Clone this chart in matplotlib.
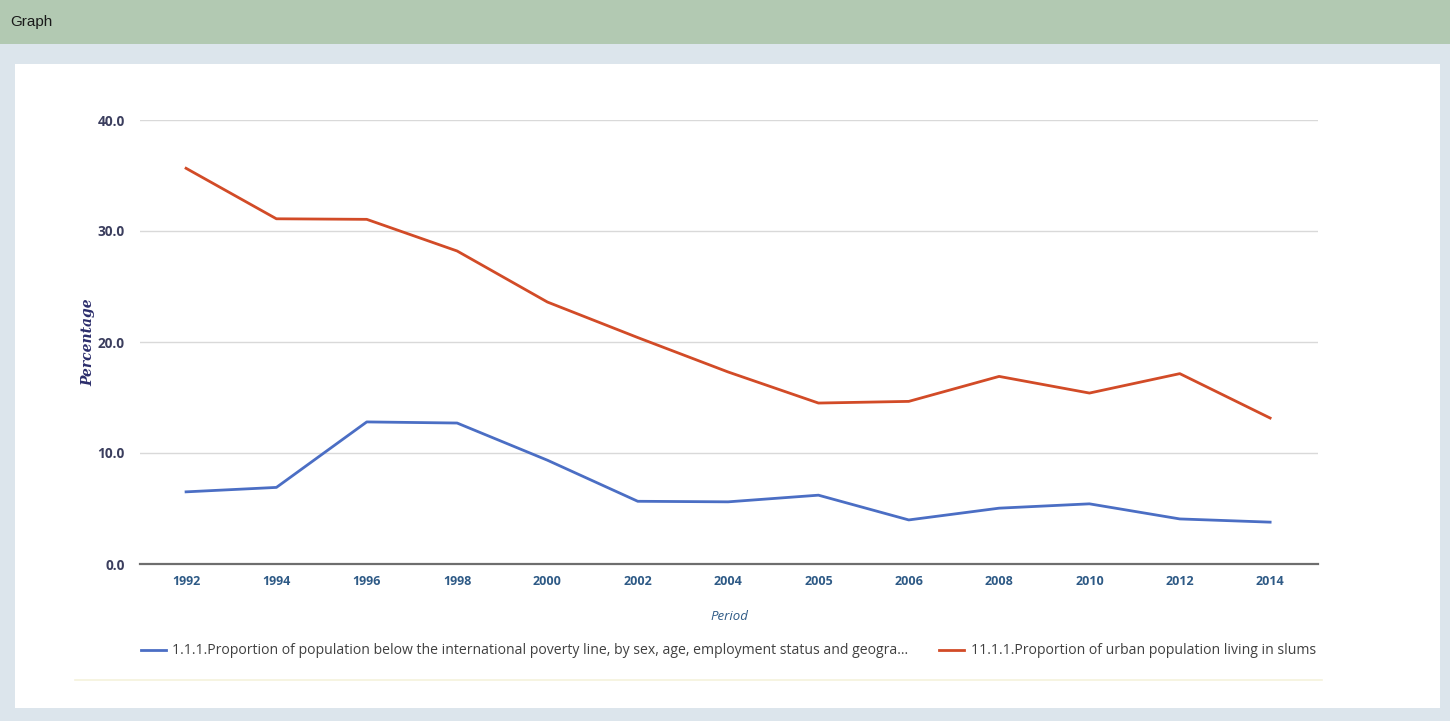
import matplotlib
matplotlib.use("Agg")
import matplotlib.pyplot as plt
from matplotlib.patches import Rectangle
from matplotlib.lines import Line2D

periods = ["1992", "1994", "1996", "1998", "2000", "2002", "2004", "2005", "2006", "2008", "2010", "2012", "2014"]
poverty = [6.5, 6.9, 12.8, 12.7, 9.35, 5.65, 5.6, 6.2, 3.97, 5.03, 5.42, 4.06, 3.77]
slums = [35.65, 31.1, 31.05, 28.2, 23.6, 20.4, 17.3, 14.5, 14.65, 16.9, 15.4, 17.15, 13.15]
yticks = [0, 10, 20, 30, 40]
label_poverty = "1.1.1.Proportion of population below the international poverty line, by sex, age, employment status and geogra..."
label_slums = "11.1.1.Proportion of urban population living in slums"

W, H = 1450, 721
fig = plt.figure(figsize=(W / 100, H / 100), dpi=100)
fig.patch.set_facecolor("#dce5ec")

def fx(px):
    return px / W

def fy(py):
    return 1 - py / H

# banner
fig.patches.append(Rectangle((0, fy(44)), 1, 44 / H, transform=fig.transFigure,
                             facecolor="#b2c9b2", edgecolor="none", zorder=-10))
fig.text(fx(10), fy(22), "Graph", fontsize=11, family="Liberation Sans",
         color="#1a1a1a", va="center", ha="left")
# white panel
fig.patches.append(Rectangle((fx(15), fy(708)), fx(1440 - 15), (708 - 64) / H,
                             transform=fig.transFigure, facecolor="white",
                             edgecolor="none", zorder=-10))
# faint line below legend
fig.lines.append(Line2D([fx(75), fx(1322)], [fy(680), fy(680)], transform=fig.transFigure,
                        color="#f5f2dc", lw=1.2, zorder=-5))

ax = fig.add_axes([fx(140), fy(564), fx(1318 - 140), (564 - 120) / H])
ax.set_zorder(1)
ax.set_facecolor("none")
x = list(range(len(periods)))
l1, = ax.plot(x, poverty, color="#4b6ec4", lw=2, label=label_poverty, solid_joinstyle="round")
l2, = ax.plot(x, slums, color="#d24b27", lw=2, label=label_slums, solid_joinstyle="round")

ax.set_xlim(-0.51, len(periods) - 0.47)
ax.set_ylim(0, 40)
ax.set_yticks(yticks)
ax.set_yticklabels([f"{v:.1f}" for v in yticks], fontsize=9.8, fontweight="bold",
                   color="#3b3e5e", family="Open Sans")
ax.set_xticks(x)
ax.set_xticklabels(periods, fontsize=9, fontweight="bold", color="#2e5a86", family="Open Sans")
ax.tick_params(axis="both", length=0)
ax.tick_params(axis="y", pad=11)
ax.tick_params(axis="x", pad=8)
ax.grid(axis="y", color="#d9d9d9", lw=1)
ax.set_axisbelow(True)
for s in ["top", "right", "left"]:
    ax.spines[s].set_visible(False)
ax.spines["bottom"].set_color("#6e6e6e")
ax.spines["bottom"].set_linewidth(1.6)

fig.text(fx(88), fy(342), "Percentage", rotation=90, fontsize=10, fontstyle="italic",
         fontweight="bold", family="DejaVu Serif", color="#2b2d6b", ha="center", va="center")
fig.text(fx(729), fy(617), "Period", fontsize=9.5, fontstyle="italic", family="Open Sans",
         color="#2e5a86", ha="center", va="center")

leg = fig.legend(handles=[l1, l2], loc="center left", bbox_to_anchor=(fx(128), fy(651)),
                 ncol=2, frameon=False, handlelength=1.8, handletextpad=0.45,
                 columnspacing=2.2, prop={"family": "Open Sans", "size": 10.1})
for t in leg.get_texts():
    t.set_color("#404040")

fig.savefig("out.png", dpi=100, facecolor=fig.get_facecolor())
